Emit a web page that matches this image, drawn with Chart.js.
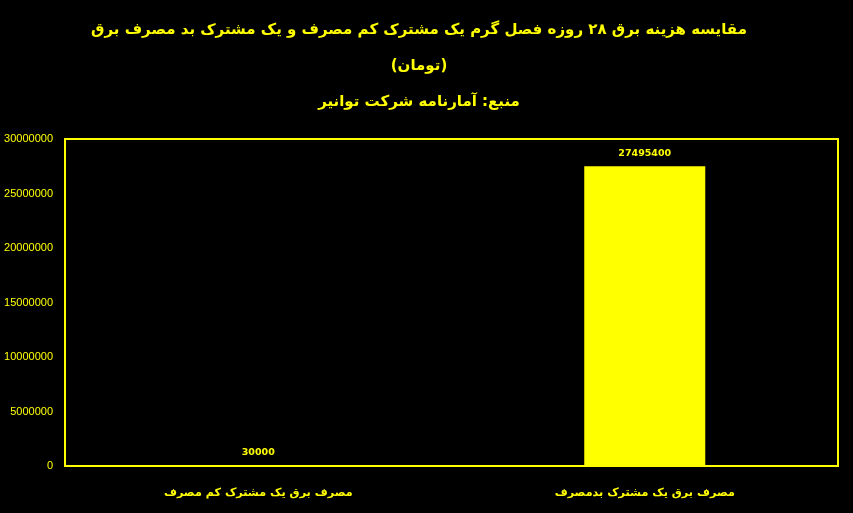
<!DOCTYPE html>
<html>
<head>
<meta charset="utf-8">
<script src="https://cdn.jsdelivr.net/npm/chart.js@4"></script>
<style>
html,body{margin:0;padding:0;background:#000;}
#wrap{width:853px;height:513px;position:relative;}
</style>
</head>
<body>
<div id="wrap"><canvas id="c" width="853" height="513"></canvas></div>
<script>
const categories = ['مصرف برق یک مشترک کم مصرف', 'مصرف برق یک مشترک بدمصرف'];
const values = [30000, 27495400];
const tickValues = [0, 5000000, 10000000, 15000000, 20000000, 25000000, 30000000];
const titleLines = [
  'مقایسه هزینه برق ۲۸ روزه فصل گرم یک مشترک کم مصرف و یک مشترک بد مصرف برق',
  '(تومان)',
  'منبع: آمارنامه شرکت توانیر'
];

const YELLOW = '#ffff00';

const frame = {
  id: 'frame',
  afterDatasetsDraw(chart) {
    const a = chart.chartArea, ctx = chart.ctx;
    ctx.save();
    ctx.strokeStyle = YELLOW;
    ctx.lineWidth = 2;
    ctx.strokeRect(a.left, a.top, a.right - a.left, a.bottom - a.top);
    ctx.restore();
  }
};
const labels = {
  id: 'labels',
  afterDatasetsDraw(chart) {
    const ctx = chart.ctx;
    const meta = chart.getDatasetMeta(0);
    ctx.save();
    ctx.fillStyle = YELLOW;
    ctx.font = 'bold 9.5px "DejaVu Sans"';
    ctx.textAlign = 'center';
    ctx.textBaseline = 'bottom';
    meta.data.forEach((bar, i) => {
      ctx.fillText(String(values[i]), bar.x, bar.y - 8);
    });
    ctx.restore();
  }
};

new Chart(document.getElementById('c'), {
  type: 'bar',
  data: {
    labels: categories,
    datasets: [{
      data: values,
      backgroundColor: YELLOW,
      borderWidth: 0,
      categoryPercentage: 0.62,
      barPercentage: 0.505
    }]
  },
  options: {
    responsive: false,
    animation: false,
    devicePixelRatio: 1,
    layout: { padding: { left: 0, right: 15, top: 0, bottom: 0 } },
    plugins: {
      legend: { display: false },
      tooltip: { enabled: false },
      title: {
        display: true,
        text: titleLines,
        color: YELLOW,
        font: { family: '"DejaVu Sans"', size: 15, weight: 'bold', lineHeight: 2.4 },
        padding: { top: 12, bottom: 19 }
      }
    },
    scales: {
      x: {
        grid: { display: false, drawTicks: false },
        border: { display: false },
        ticks: {
          color: YELLOW,
          font: { family: '"DejaVu Sans"', size: 11.2, weight: 'bold' },
          padding: 20,
          maxRotation: 0
        },
        afterFit(s) { s.height = 47; }
      },
      y: {
        min: 0,
        max: 30000000,
        afterBuildTicks(s) { s.ticks = tickValues.map(v => ({ value: v })); },
        grid: { display: false, drawTicks: false },
        border: { display: false },
        ticks: {
          color: YELLOW,
          font: { family: '"Liberation Sans"', size: 11 },
          padding: 12,
          callback: v => String(v)
        },
        afterFit(s) { s.width = 65; }
      }
    }
  },
  plugins: [frame, labels]
});
</script>
</body>
</html>
